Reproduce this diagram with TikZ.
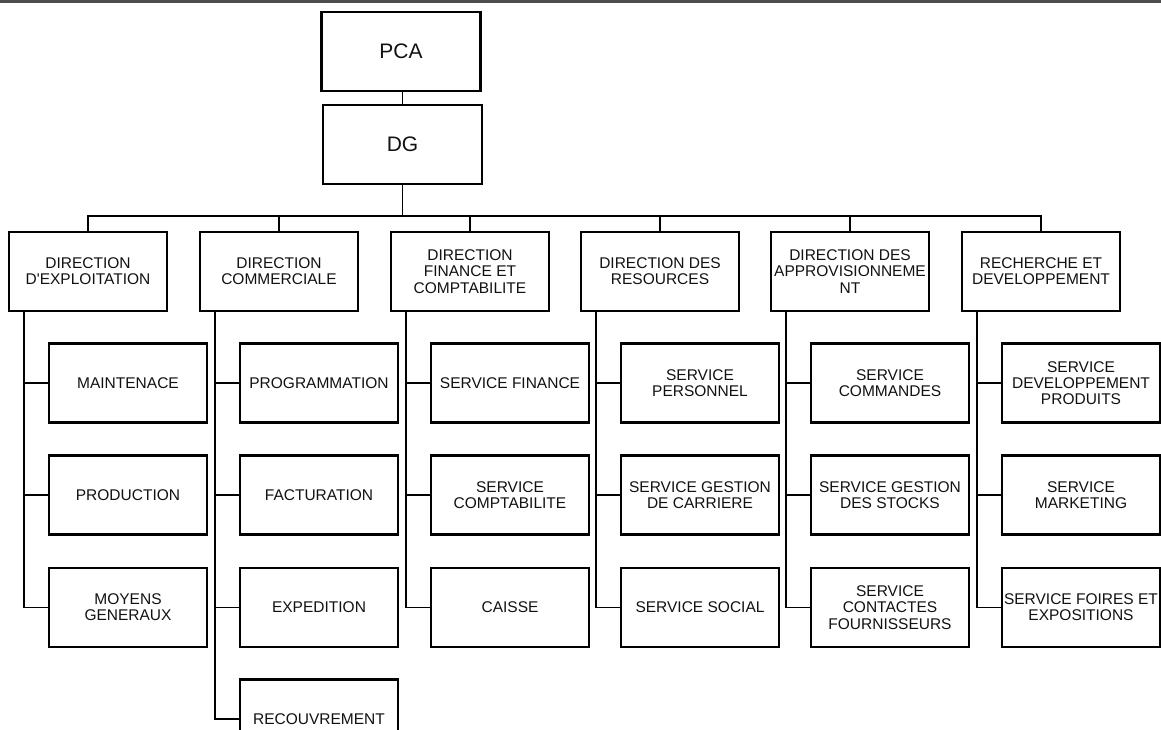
\documentclass[tikz,border=0pt]{standalone}
\usepackage{fontspec}
\newfontfamily\orgfont{Liberation Sans}
\definecolor{topbar}{HTML}{4B4E50}
\definecolor{ink}{HTML}{111111}
\tikzset{
  box/.style={draw=black, line width=2.3pt, rectangle, inner sep=0pt,
    minimum width=158pt, minimum height=79pt, align=center, text=ink,
    font=\orgfont\fontsize{15.5}{16.3}\selectfont},
  topbox/.style={box, minimum width=159pt, font=\orgfont\fontsize{21}{23}\selectfont},
  link/.style={line width=1.6pt}
}
\begin{document}
\begin{tikzpicture}[x=1pt,y=-1pt]
      \useasboundingbox (0,0) rectangle (1161,729);
      \clip (0,0) rectangle (1161,729);
      \fill[topbar] (0,0) rectangle (1161,2.5);
      \draw
        (401,51.5) node[topbox] (pca){PCA}
        (402.5,144.5) node[topbox] (dg){DG}
        (402.5,216) coordinate (bus)
        (88,271.5) node[box] (d1){DIRECTION\\D'EXPLOITATION}
        (279,271.5) node[box] (d2){DIRECTION\\COMMERCIALE}
        (470,271.5) node[box] (d3){DIRECTION\\FINANCE ET\\COMPTABILITE}
        (660,271.5) node[box] (d4){DIRECTION DES\\RESOURCES}
        (850,271.5) node[box] (d5){DIRECTION DES\\APPROVISIONNEME\\NT}
        (1041,271.5) node[box] (d6){RECHERCHE ET\\DEVELOPPEMENT}
        (128,383) node[box] (s11){MAINTENACE}
        (128,495) node[box] (s12){PRODUCTION}
        (128,607.5) node[box] (s13){MOYENS\\GENERAUX}
        (319,383) node[box] (s21){PROGRAMMATION}
        (319,495) node[box] (s22){FACTURATION}
        (319,607.5) node[box] (s23){EXPEDITION}
        (319,719) node[box] (s24){RECOUVREMENT}
        (510,383) node[box] (s31){SERVICE FINANCE}
        (510,495) node[box] (s32){SERVICE\\COMPTABILITE}
        (510,607.5) node[box] (s33){CAISSE}
        (700,383) node[box] (s41){SERVICE\\PERSONNEL}
        (700,495) node[box] (s42){SERVICE GESTION\\DE CARRIERE}
        (700,607.5) node[box] (s43){SERVICE SOCIAL}
        (890,383) node[box] (s51){SERVICE\\COMMANDES}
        (890,495) node[box] (s52){SERVICE GESTION\\DES STOCKS}
        (890,607.5) node[box] (s53){SERVICE\\CONTACTES\\FOURNISSEURS}
        (1081,383) node[box] (s61){SERVICE\\DEVELOPPEMENT\\PRODUITS}
        (1081,495) node[box] (s62){SERVICE\\MARKETING}
        (1081,607.5) node[box] (s63){SERVICE FOIRES ET\\EXPOSITIONS};
      \begin{scope}[link]
        \draw[line width=1.2pt] (dg.north) -- (dg.north |- pca.south);
        \draw (dg.south) -- (bus);
        \draw (bus) -| (d1.north);
        \draw (bus) -| (d2.north);
        \draw (bus) -| (d3.north);
        \draw (bus) -| (d4.north);
        \draw (bus) -| (d5.north);
        \draw (bus) -| (d6.north);
        \draw ([xshift=16pt]d1.south west) |- (s11.west);
        \draw ([xshift=16pt]d1.south west) |- (s12.west);
        \draw ([xshift=16pt]d1.south west) |- (s13.west);
        \draw ([xshift=16pt]d2.south west) |- (s21.west);
        \draw ([xshift=16pt]d2.south west) |- (s22.west);
        \draw ([xshift=16pt]d2.south west) |- (s23.west);
        \draw ([xshift=16pt]d2.south west) |- (s24.west);
        \draw ([xshift=16pt]d3.south west) |- (s31.west);
        \draw ([xshift=16pt]d3.south west) |- (s32.west);
        \draw ([xshift=16pt]d3.south west) |- (s33.west);
        \draw ([xshift=16pt]d4.south west) |- (s41.west);
        \draw ([xshift=16pt]d4.south west) |- (s42.west);
        \draw ([xshift=16pt]d4.south west) |- (s43.west);
        \draw ([xshift=16pt]d5.south west) |- (s51.west);
        \draw ([xshift=16pt]d5.south west) |- (s52.west);
        \draw ([xshift=16pt]d5.south west) |- (s53.west);
        \draw ([xshift=16pt]d6.south west) |- (s61.west);
        \draw ([xshift=16pt]d6.south west) |- (s62.west);
        \draw ([xshift=16pt]d6.south west) |- (s63.west);
      \end{scope}
    \end{tikzpicture}
\end{document}
